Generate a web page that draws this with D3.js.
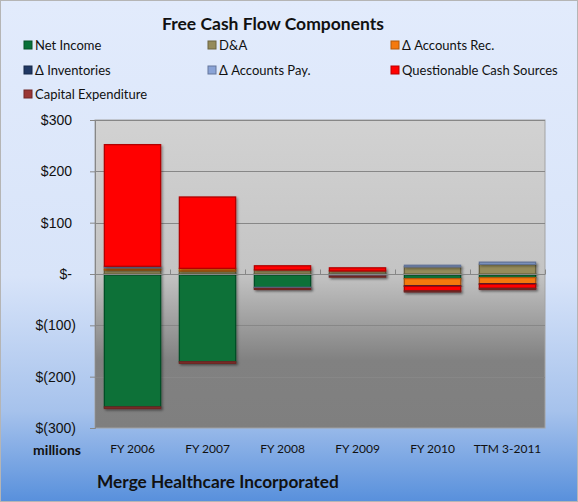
<!DOCTYPE html>
<html>
<head>
<meta charset="utf-8">
<script src="https://cdn.jsdelivr.net/npm/d3@7"></script>
<style>
  body { margin: 0; padding: 0; }
  svg { display: block; font-family: Lato, "Open Sans", sans-serif; }
</style>
</head>
<body>
<div id="chart"></div>
<script>
//----------------------------------------------------------------
// donnees (millions de $)
//----------------------------------------------------------------
var categories = ["FY 2006", "FY 2007", "FY 2008", "FY 2009", "FY 2010", "TTM 3-2011"];

var seriesNames = ["Net Income", "D&A", "\u0394 Accounts Rec.", "\u0394 Inventories",
                   "\u0394 Accounts Pay.", "Questionable Cash Sources", "Capital Expenditure"];

var netIncome    = [-259, -171, -26, -1,  -9,  -7];
var dna          = [   8,    6,   8,  6,  14,  19];
var accountsRec  = [   4,    5,   0,  0, -14, -12];
var inventories  = [   0,    0,   0,  0,  -1,  -1];
var accountsPay  = [   3,    0,  -2, -3,   3,   4];
var questionable = [ 237,  139,   8,  6,  -9,  -8];
var capex        = [  -3,   -3,  -2, -2,  -2,  -2];

var yTicks = [300, 200, 100, 0, -100, -200, -300];

var couleurs = ["#087138", "#958b5a", "#f5790f", "#203864", "#8aa3d6", "#ff0000", "#9a3634"];

// table pour d3.stack
var table = categories.map(function(c, i) {
    return {
        cat: c,
        s0: netIncome[i], s1: dna[i], s2: accountsRec[i], s3: inventories[i],
        s4: accountsPay[i], s5: questionable[i], s6: capex[i]
    };
});

//----------------------------------------------------------------
// dimensions
//----------------------------------------------------------------
var W = 578, H = 502;
var plot = {left: 95, right: 545, top: 120, bottom: 428};

var svg = d3.select("#chart").append("svg")
    .attr("width", W)
    .attr("height", H);

var defs = svg.append("defs");

// fond bleu du graphique
var bg = defs.append("linearGradient").attr("id", "bgGrad")
    .attr("x1", 0).attr("y1", 0).attr("x2", 0).attr("y2", 1);
bg.append("stop").attr("offset", "0%").attr("stop-color", "#e2ebfc");
bg.append("stop").attr("offset", "55%").attr("stop-color", "#d8e4f9");
bg.append("stop").attr("offset", "82%").attr("stop-color", "#a6c2ec");
bg.append("stop").attr("offset", "100%").attr("stop-color", "#5890dc");

// fond gris de la zone de trace
var pg = defs.append("linearGradient").attr("id", "plotGrad")
    .attr("x1", 0).attr("y1", 0).attr("x2", 0).attr("y2", 1);
pg.append("stop").attr("offset", "0%").attr("stop-color", "#d2d2d2");
pg.append("stop").attr("offset", "50%").attr("stop-color", "#c4c4c4");
pg.append("stop").attr("offset", "78%").attr("stop-color", "#818181");
pg.append("stop").attr("offset", "100%").attr("stop-color", "#7f7f7f");

// ombre des barres
var f = defs.append("filter").attr("id", "ombre")
    .attr("x", "-20%").attr("y", "-20%").attr("width", "140%").attr("height", "140%");
f.append("feDropShadow")
    .attr("dx", 1.5).attr("dy", 1.5).attr("stdDeviation", 1)
    .attr("flood-color", "#000").attr("flood-opacity", 0.35);

svg.append("rect")
    .attr("x", 0.5).attr("y", 0.5)
    .attr("width", W - 1).attr("height", H - 1)
    .attr("fill", "url(#bgGrad)")
    .attr("stroke", "#b5b5b5");

svg.append("rect")
    .attr("x", plot.left).attr("y", plot.top)
    .attr("width", plot.right - plot.left)
    .attr("height", plot.bottom - plot.top)
    .attr("fill", "url(#plotGrad)")
    .attr("stroke", "#a3a3a3")
    .attr("stroke-width", 1);

//----------------------------------------------------------------
// echelles
//----------------------------------------------------------------
var x = d3.scaleBand()
    .domain(categories)
    .range([plot.left, plot.right])
    .paddingInner(0.25)
    .paddingOuter(0.125);

var y = d3.scaleLinear()
    .domain([-300, 300])
    .range([plot.bottom, plot.top]);

var step = x.step();
var x0 = plot.left;

// grille horizontale
svg.append("g").selectAll("line")
    .data(yTicks.filter(function(d) { return d !== 0 && d !== -300; }))
    .enter().append("line")
    .attr("x1", plot.left).attr("x2", plot.right)
    .attr("y1", function(d) { return Math.round(y(d)) + 0.5; })
    .attr("y2", function(d) { return Math.round(y(d)) + 0.5; })
    .attr("stroke", "#878787")
    .attr("stroke-width", 1);

// axe Y
var fmt = function(d) {
    if (d === 0) return "$-";
    if (d < 0) return "$(" + Math.abs(d) + ")";
    return "$" + d;
};

var yAxis = svg.append("g")
    .attr("transform", "translate(" + plot.left + ",0)")
    .call(d3.axisLeft(y).tickValues(yTicks).tickSize(5).tickPadding(14).tickFormat(fmt));
yAxis.select(".domain").attr("stroke", "#878787");
yAxis.selectAll(".tick line").attr("stroke", "#878787");
yAxis.selectAll(".tick text")
    .attr("font-size", 14)
    .attr("fill", "#111")
    .attr("dx", function(d) { return d < 0 ? 0 : -4; });

//----------------------------------------------------------------
// barres empilees
//----------------------------------------------------------------
var keys = ["s0", "s1", "s2", "s3", "s4", "s5", "s6"];
var stack = d3.stack().keys(keys).offset(d3.stackOffsetDiverging);
var layers = stack(table);

var groupes = svg.append("g").selectAll("g")
    .data(layers)
    .enter().append("g")
    .attr("fill", function(d, i) { return couleurs[i]; })
    .attr("stroke", function(d, i) { return d3.color(couleurs[i]).darker(1); })
    .attr("filter", "url(#ombre)");

groupes.selectAll("rect")
    .data(function(d) { return d.filter(function(p) { return p[1] - p[0] !== 0; }); })
    .enter().append("rect")
    .attr("x", function(d) { return x(d.data.cat); })
    .attr("width", x.bandwidth())
    .attr("y", function(d) { return y(d[1]); })
    .attr("height", function(d) { return Math.max(0.5, y(d[0]) - y(d[1])); })
    .attr("stroke-width", 1.3);

// axe X (ligne du zero + graduations)
var yZero = Math.round(y(0)) + 0.5;
svg.append("line")
    .attr("x1", plot.left).attr("x2", plot.right)
    .attr("y1", yZero).attr("y2", yZero)
    .attr("stroke", "#878787");

svg.append("g").selectAll("line")
    .data(d3.range(categories.length + 1))
    .enter().append("line")
    .attr("x1", function(i) { return Math.round(x0 + i * step) + 0.5; })
    .attr("x2", function(i) { return Math.round(x0 + i * step) + 0.5; })
    .attr("y1", yZero).attr("y2", yZero - 5)
    .attr("stroke", "#878787");

// etiquettes des categories
svg.append("g").selectAll("text")
    .data(categories)
    .enter().append("text")
    .attr("x", function(d) { return x(d) + x.bandwidth() / 2; })
    .attr("y", 453)
    .attr("text-anchor", "middle")
    .attr("font-size", 12)
    .attr("fill", "#111")
    .text(function(d) { return d; });

svg.append("text")
    .attr("x", 81).attr("y", 455)
    .attr("text-anchor", "end")
    .attr("font-size", 14)
    .attr("font-weight", "bold")
    .attr("fill", "#111")
    .text("millions");

//----------------------------------------------------------------
// titre, legende, source
//----------------------------------------------------------------
svg.append("text")
    .attr("x", 273).attr("y", 30)
    .attr("text-anchor", "middle")
    .attr("font-size", 17.5)
    .attr("font-weight", "bold")
    .attr("fill", "#111")
    .text("Free Cash Flow Components");

var colX = [24, 208, 391];
var rowY = [45, 70, 94];

var legende = svg.append("g").selectAll("g")
    .data(seriesNames)
    .enter().append("g")
    .attr("transform", function(d, i) {
        return "translate(" + colX[i % 3] + "," + rowY[Math.floor(i / 3)] + ")";
    });

legende.append("rect")
    .attr("x", 0).attr("y", -4)
    .attr("width", 8).attr("height", 8)
    .attr("fill", function(d, i) { return couleurs[i]; })
    .attr("stroke", function(d, i) { return d3.color(couleurs[i]).darker(0.9); })
    .attr("stroke-width", 1);

legende.append("text")
    .attr("x", 11).attr("y", 0)
    .attr("dy", "0.36em")
    .attr("font-size", 13)
    .attr("fill", "#111")
    .text(function(d) { return d; });

svg.append("text")
    .attr("x", 97).attr("y", 488)
    .attr("font-size", 17.3)
    .attr("font-weight", "bold")
    .attr("fill", "#111")
    .text("Merge Healthcare Incorporated");
</script>
</body>
</html>
